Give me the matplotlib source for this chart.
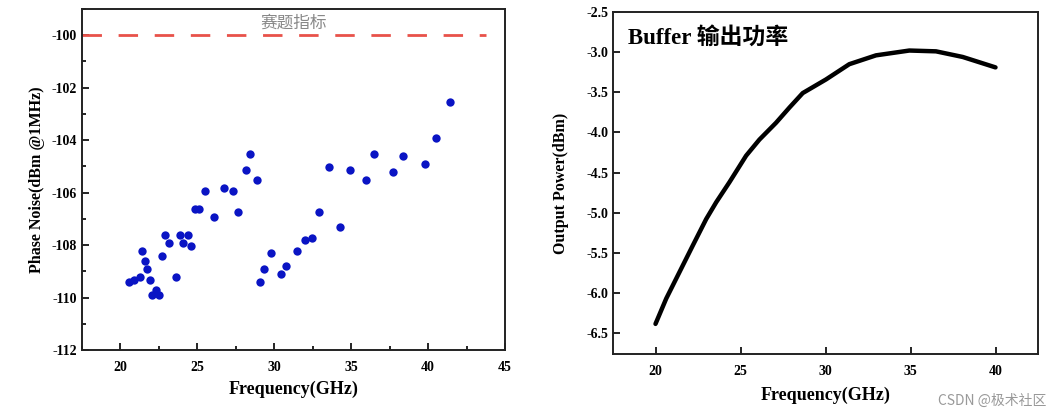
import matplotlib
matplotlib.use("Agg")
import matplotlib.pyplot as plt
from matplotlib.ticker import MultipleLocator

plt.rcParams['font.family'] = ['Liberation Serif', 'Noto Sans CJK SC']
plt.rcParams['font.weight'] = 'bold'
plt.rcParams['axes.unicode_minus'] = False

# phase noise scatter (left)
pnFreq = [20.56, 20.89, 21.26, 21.37, 21.58, 21.73, 21.93, 22.08, 22.32, 22.49,
          22.71, 22.88, 23.16, 23.60, 23.84, 24.07, 24.36, 24.59, 24.83, 25.09,
          25.48, 26.09, 26.72, 27.32, 27.65, 28.15, 28.41, 28.86, 29.04, 29.32,
          29.79, 30.42, 30.77, 31.46, 32.03, 32.46, 32.89, 33.56, 34.26, 34.95,
          35.97, 36.51, 37.72, 38.35, 39.78, 40.50, 41.41]
pnValue = [-109.42, -109.32, -109.21, -108.22, -108.61, -108.92, -109.32, -109.92, -109.72, -109.92,
           -108.41, -107.62, -107.93, -109.21, -107.62, -107.93, -107.62, -108.03, -106.63, -106.63,
           -105.92, -106.92, -105.82, -105.92, -106.72, -105.13, -104.53, -105.53, -109.42, -108.92,
           -108.32, -109.12, -108.81, -108.22, -107.82, -107.72, -106.72, -105.03, -107.32, -105.13,
           -105.53, -104.53, -105.22, -104.62, -104.92, -103.92, -102.53]
specLimit = -100

# buffer output power (right)
bufFreq = [20.0, 20.63, 21.41, 22.19, 22.98, 23.57, 24.35, 25.33, 26.11, 27.09,
           27.88, 28.66, 30.03, 31.40, 32.97, 34.93, 36.50, 38.07, 40.0]
bufPower = [-6.385, -6.07, -5.74, -5.41, -5.08, -4.87, -4.62, -4.29, -4.09, -3.88,
            -3.69, -3.51, -3.34, -3.15, -3.04, -2.98, -2.99, -3.06, -3.19]

W, H = 1062, 420
fig = plt.figure(figsize=(W / 100, H / 100), dpi=100)
ax1 = fig.add_axes([82 / W, 1 - 350 / H, (505 - 82) / W, (350 - 9) / H])
ax2 = fig.add_axes([613 / W, 1 - 354 / H, (1038 - 613) / W, (354 - 12) / H])

# left panel
ax1.scatter(pnFreq, pnValue, s=36, color='#0a14c4', zorder=3, linewidths=0)
ax1.axhline(specLimit, xmin=0, xmax=0.955, color='#e8524a', lw=2, dashes=(7, 6))
ax1.text(31.25, -99.55, '赛题指标', color='#888888', fontsize=12, ha='center',
         va='center', fontweight='normal')
ax1.set_xlim(17.5, 45)
ax1.set_ylim(-112, -99)
ax1.xaxis.set_major_locator(MultipleLocator(5))
ax1.xaxis.set_minor_locator(MultipleLocator(2.5))
ax1.yaxis.set_major_locator(MultipleLocator(2))
ax1.yaxis.set_minor_locator(MultipleLocator(1))
ax1.set_xlabel('Frequency(GHz)', fontsize=13, fontweight='bold', labelpad=5)
ax1.set_ylabel('Phase Noise(dBm @1MHz)', fontsize=11.5, fontweight='bold', labelpad=5)

# right panel
ax2.plot(bufFreq, bufPower, color='black', lw=3.2, solid_capstyle='round',
         solid_joinstyle='round')
ax2.text(0.035, 0.925, 'Buffer 输出功率', transform=ax2.transAxes, fontsize=16.5,
         fontweight='bold', ha='left', va='center')
ax2.set_xlim(17.5, 42.5)
ax2.set_ylim(-6.76, -2.5)
ax2.xaxis.set_major_locator(MultipleLocator(5))
ax2.yaxis.set_major_locator(MultipleLocator(0.5))
ax2.yaxis.set_major_formatter(plt.FormatStrFormatter('%.1f'))
ax2.set_xlabel('Frequency(GHz)', fontsize=13, fontweight='bold', labelpad=6)
ax2.set_ylabel('Output Power(dBm)', fontsize=11.5, fontweight='bold', labelpad=12)

for ax in (ax1, ax2):
  for s in ax.spines.values():
    s.set_linewidth(1.4)
    s.set_color('#222222')
  ax.tick_params(direction='in', which='both', labelsize=10, width=1.2)
  ax.tick_params(which='major', length=5)
  ax.tick_params(which='minor', length=3)
  ax.tick_params(axis='x', pad=8)
  for lab in ax.get_xticklabels() + ax.get_yticklabels():
    lab.set_fontweight('bold')

fig.text(1046 / W, 1 - 401 / H, 'CSDN @极术社区', color='#999999', fontsize=10,
         ha='right', va='center', family=['Noto Sans CJK SC', 'DejaVu Sans'],
         fontweight='normal')

fig.savefig('out.png', dpi=100)
